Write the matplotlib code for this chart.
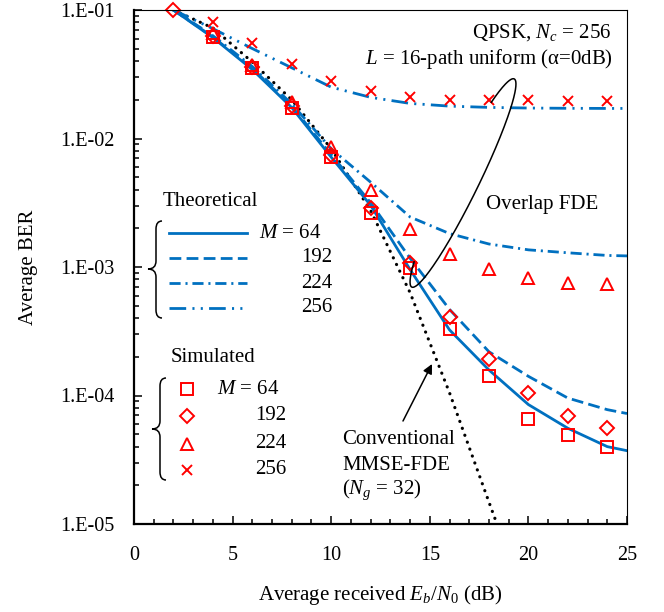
import numpy as np
import matplotlib
matplotlib.use("Agg")
import matplotlib.pyplot as plt
from matplotlib.path import Path
from matplotlib.patches import PathPatch
from matplotlib.ticker import MultipleLocator, LogLocator, FuncFormatter, NullFormatter

plt.rcParams['font.family'] = ['Liberation Serif', 'DejaVu Serif']
plt.rcParams['mathtext.fontset'] = 'custom'
plt.rcParams['mathtext.rm'] = 'Liberation Serif'
plt.rcParams['mathtext.it'] = 'Liberation Serif:italic'
plt.rcParams['lines.scale_dashes'] = False

# ---------------- data ----------------
snr_th = [2, 4, 6, 8, 10, 12, 14, 16, 18, 20, 22, 24, 25]
ber_th_64 = [0.1, 0.061, 0.0344, 0.0174, 0.00716, 0.00302, 0.000955, 0.000324,
             0.000158, 8.5e-5, 5.56e-5, 4.0e-5, 3.72e-5]
ber_th_192 = [0.1, 0.0617, 0.0351, 0.0178, 0.0075, 0.00316, 0.00117, 0.000468,
              0.000219, 0.000141, 9.55e-5, 7.76e-5, 7.24e-5]
ber_th_224 = [0.1, 0.0631, 0.0363, 0.0186, 0.00832, 0.00457, 0.00245, 0.00182,
              0.00151, 0.00136, 0.00129, 0.00123, 0.00122]
ber_th_256 = [0.1, 0.0716, 0.0501, 0.0355, 0.0251, 0.0209, 0.01875, 0.01786,
              0.01746, 0.01726, 0.01718, 0.01714, 0.01714]

snr_conv = [2, 4, 6, 8, 10, 12, 14, 16, 18, 20]
ber_conv = [0.1, 0.0724, 0.0393, 0.02, 0.00832, 0.00275, 0.000631, 0.000105,
            1.48e-5, 2.14e-6]

snr_sim = [4, 6, 8, 10, 12, 14, 16, 18, 20, 22, 24]
ber_sim_64 = [0.0619, 0.0355, 0.0172, 0.00721, 0.00263, 0.000977, 0.000331,
              0.000141, 6.6e-5, 4.9e-5, 3.98e-5]
snr_sim_192 = [2, 4, 6, 8, 10, 12, 14, 16, 18, 20, 22, 24]
ber_sim_192 = [0.1, 0.0631, 0.0363, 0.0178, 0.00741, 0.00286, 0.00108, 0.000407,
               0.000192, 0.000105, 6.9e-5, 5.6e-5]
ber_sim_224 = [0.0661, 0.0373, 0.0194, 0.00863, 0.00398, 0.00196, 0.00126,
               0.000966, 0.00082, 0.00075, 0.00074]
ber_sim_256 = [0.0811, 0.0557, 0.0378, 0.028, 0.0234, 0.021, 0.02, 0.02, 0.02,
               0.0197, 0.0197]

blue = '#0070C0'
red = '#FF0000'
dash_192 = (0, (8.5, 3.8))
dash_224 = (0, (8, 3.5, 1.5, 3.5))
dash_256 = (0, (12, 4.5, 1.5, 4.5, 1.5, 4.5))
dots = (0, (0.1, 5.2))

# ---------------- figure ----------------
W, H = 664, 612
fig = plt.figure(figsize=(W / 100, H / 100), dpi=100)
ax = fig.add_axes([134 / W, (H - 524) / H, 493 / W, 514 / H])


def px(x, y):
    # pixel position (from top-left of image) -> axes fraction
    return (x - 134) / 493.0, (524 - y) / 514.0


ax.plot(snr_conv, ber_conv, color='black', lw=2.3, linestyle=dots,
        dash_capstyle='round')
ax.plot(snr_th, ber_th_256, color=blue, lw=2, linestyle=dash_256)
ax.plot(snr_th, ber_th_224, color=blue, lw=2, linestyle=dash_224)
ax.plot(snr_th, ber_th_192, color=blue, lw=2, linestyle=dash_192)
ax.plot(snr_th, ber_th_64, color=blue, lw=2)

mk = dict(linestyle='none', mfc='none', mec=red, mew=1.4, clip_on=False)
ax.plot(snr_sim, ber_sim_256, marker='x', ms=7.5, **mk)
ax.plot(snr_sim, ber_sim_224, marker='^', ms=9, **mk)
ax.plot(snr_sim, ber_sim_64, marker='s', ms=8, **mk)
ax.plot(snr_sim_192, ber_sim_192, marker='D', ms=7, **mk)

ax.set_yscale('log')
ax.set_xlim(0, 25)
ax.set_ylim(1e-5, 1e-1)
ax.xaxis.set_major_locator(MultipleLocator(5))
ax.xaxis.set_minor_locator(MultipleLocator(1))
ax.yaxis.set_major_locator(LogLocator(base=10, numticks=10))
ax.yaxis.set_minor_locator(LogLocator(base=10, subs=np.arange(2, 10), numticks=10))
ax.yaxis.set_minor_formatter(NullFormatter())
ax.yaxis.set_major_formatter(FuncFormatter(lambda v, p: "1.E-%02d" % round(-np.log10(v))))
ax.tick_params(which='both', direction='in', top=False, right=False,
               labelsize=14.5, width=1.1)
ax.tick_params(which='major', length=6)
ax.tick_params(which='minor', length=3.5)
ax.tick_params(axis='y', pad=14)
ax.tick_params(axis='x', pad=16)
for s in ['left', 'bottom']:
    ax.spines[s].set_linewidth(1.6)
for s in ['top', 'right']:
    ax.spines[s].set_linewidth(0.8)

ax.text(*px(28, 267), "Average BER", rotation=90, ha='center', va='center',
        fontsize=15, transform=ax.transAxes)
ax.text(*px(380, 595), "Average received $E_b$/$N_0$ (dB)", ha='center', va='center',
        fontsize=15, transform=ax.transAxes)

fs = 15
ax.text(*px(612, 33), "QPSK, $N_c$ = 256", ha='right', va='center', fontsize=fs,
        transform=ax.transAxes)
ax.text(*px(613, 59), "$L$ = 16-path uniform (\u03b1=0dB)", ha='right', va='center',
        fontsize=fs, transform=ax.transAxes)
ax.text(*px(486, 204), "Overlap FDE", ha='left', va='center', fontsize=fs,
        transform=ax.transAxes)
ax.text(*px(342, 440), "Conventional", ha='left', va='center', fontsize=fs,
        transform=ax.transAxes)
ax.text(*px(342, 465), "MMSE-FDE", ha='left', va='center', fontsize=fs,
        transform=ax.transAxes)
ax.text(*px(342, 490), "($N_g$ = 32)", ha='left', va='center', fontsize=fs,
        transform=ax.transAxes)

# arrow to conventional curve
ax.annotate("", xy=px(432, 364), xytext=px(403, 421), xycoords='axes fraction',
            textcoords='axes fraction',
            arrowprops=dict(arrowstyle='-|>', color='black', lw=1.1,
                            mutation_scale=14, shrinkA=0, shrinkB=0))

# open ellipse around overlap FDE curves
cx, cy = 463.0, 183.0
th = np.deg2rad(63.8)
a, b = 116.0, 15.0
t = np.linspace(0.75, -np.pi - 0.65, 200)
ux, uy = np.cos(th), np.sin(th)
vx, vy = -np.sin(th), np.cos(th)
ex = cx + a * np.cos(t) * ux + b * np.sin(t) * vx
ey = cy - (a * np.cos(t) * uy + b * np.sin(t) * vy)
fx, fy = px(ex, ey)
ax.plot(fx, fy, color='black', lw=1.1, transform=ax.transAxes, clip_on=False)


def brace(xe, xl, xt, ytop, ymid, ybot, r=8):
    verts = [(xe, ytop), (xl, ytop), (xl, ytop + r),
             (xl, ymid - r), (xl, ymid), (xt, ymid),
             (xl, ymid), (xl, ymid + r),
             (xl, ybot - r), (xl, ybot), (xe, ybot)]
    codes = [Path.MOVETO, Path.CURVE3, Path.CURVE3,
             Path.LINETO, Path.CURVE3, Path.CURVE3,
             Path.CURVE3, Path.CURVE3,
             Path.LINETO, Path.CURVE3, Path.CURVE3]
    verts = [px(x, y) for x, y in verts]
    ax.add_patch(PathPatch(Path(verts, codes), fc='none', ec='black', lw=1.1,
                           transform=ax.transAxes, clip_on=False))


# theoretical legend
ax.text(*px(163, 202), "Theoretical", ha='left', va='center', fontsize=fs,
        transform=ax.transAxes)
brace(162, 156, 148, 221, 269, 318)
leg_y = [233, 258, 283, 308]
leg_ls = ['-', dash_192, dash_224, dash_256]
leg_lab = ["$M$ = 64", "192", "224", "256"]
for yy, ls, lab in zip(leg_y, leg_ls, leg_lab):
    x0, y0 = px(169, yy)
    x1, _ = px(247, yy)
    ax.plot([x0, x1], [y0, y0], color=blue, lw=2, linestyle=ls,
            transform=ax.transAxes, clip_on=False)
    if lab.startswith("$M$"):
        ax.text(*px(259, yy), lab, ha='left', va='center', fontsize=fs,
                transform=ax.transAxes)
    else:
        ax.text(*px(332, yy), lab, ha='right', va='center', fontsize=fs,
                transform=ax.transAxes)

# simulated legend
ax.text(*px(171, 358), "Simulated", ha='left', va='center', fontsize=fs,
        transform=ax.transAxes)
brace(166, 160, 152, 378, 429, 480)
sim_y = [389, 416, 444, 470]
sim_m = [('s', 8), ('D', 7), ('^', 9), ('x', 7.5)]
for yy, (m, ms), lab in zip(sim_y, sim_m, leg_lab):
    ax.plot(*px(187, yy), marker=m, ms=ms, transform=ax.transAxes, **mk)
    if lab.startswith("$M$"):
        ax.text(*px(217, yy), lab, ha='left', va='center', fontsize=fs,
                transform=ax.transAxes)
    else:
        ax.text(*px(286, yy), lab, ha='right', va='center', fontsize=fs,
                transform=ax.transAxes)

fig.savefig("out.png", dpi=100)
